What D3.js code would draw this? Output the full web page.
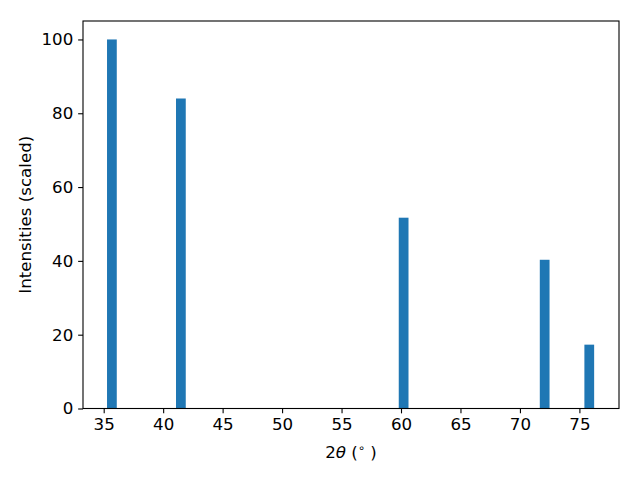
<!DOCTYPE html>
<html>
<head>
<meta charset="utf-8">
<script src="https://cdn.jsdelivr.net/npm/d3@7"></script>
<style>
  body { margin: 0; background: #fff; }
  text { font-family: "DejaVu Sans", sans-serif; }
</style>
</head>
<body>
<svg id="chart" width="640" height="480"></svg>
<script>
// peak positions (2theta, degrees) and scaled intensities
const peaks = [35.69, 41.49, 60.22, 72.08, 75.83];
const intensities = [100, 84.0, 51.7, 40.3, 17.3];
const binWidth = 0.82;
const xTicks = [35, 40, 45, 50, 55, 60, 65, 70, 75];
const yTicks = [0, 20, 40, 60, 80, 100];

const plotLeft = 83;
const plotRight = 619;
const plotTop = 21;
const plotBottom = 408.5;
const barColor = "#1f77b4";
const fontSize = 16.67;
const tickLen = 4.86;
const pad = 4.86;

const svg = d3.select("#chart");

const x = d3.scaleLinear().domain([33.26, 78.33]).range([plotLeft, plotRight]);
const y = d3.scaleLinear().domain([0, 105]).range([plotBottom, plotTop]);

// bars
svg.append("g")
  .selectAll("rect")
  .data(peaks)
  .join("rect")
  .attr("x", d => x(d - binWidth / 2))
  .attr("width", d => x(d + binWidth / 2) - x(d - binWidth / 2))
  .attr("y", (d, i) => y(intensities[i]))
  .attr("height", (d, i) => y(0) - y(intensities[i]))
  .attr("fill", barColor);

// axes
const xAxis = d3.axisBottom(x).tickValues(xTicks).tickSizeInner(tickLen).tickSizeOuter(0).tickPadding(pad);
const yAxis = d3.axisLeft(y).tickValues(yTicks).tickSizeInner(tickLen).tickSizeOuter(0).tickPadding(pad);

const gx = svg.append("g").attr("transform", `translate(0,${plotBottom})`).call(xAxis);
const gy = svg.append("g").attr("transform", `translate(${plotLeft},0)`).call(yAxis);

[gx, gy].forEach(g => {
  g.select(".domain").remove();
  g.selectAll(".tick line").attr("stroke", "#000").attr("stroke-width", 1.1);
  g.selectAll(".tick text")
    .attr("fill", "#000")
    .style("font-size", fontSize + "px")
    .style("font-family", "DejaVu Sans");
});

// frame
svg.append("rect")
  .attr("x", plotLeft)
  .attr("y", plotTop)
  .attr("width", plotRight - plotLeft)
  .attr("height", plotBottom - plotTop)
  .attr("fill", "none")
  .attr("stroke", "#000")
  .attr("stroke-width", 1.1);

// x label
const xl = svg.append("text")
  .attr("x", (plotLeft + plotRight) / 2)
  .attr("y", 458)
  .attr("text-anchor", "middle")
  .style("font-size", fontSize + "px");
xl.append("tspan").text("2");
xl.append("tspan").style("font-style", "italic").text("θ");
xl.append("tspan").text(" (");
xl.append("tspan").attr("dy", -6).style("font-size", "11.5px").text("∘");
xl.append("tspan").attr("dy", 6).text(" )");

// y label
svg.append("text")
  .attr("transform", `translate(31,${(plotTop + plotBottom) / 2}) rotate(-90)`)
  .attr("text-anchor", "middle")
  .style("font-size", fontSize + "px")
  .text("Intensities (scaled)");
</script>
</body>
</html>
